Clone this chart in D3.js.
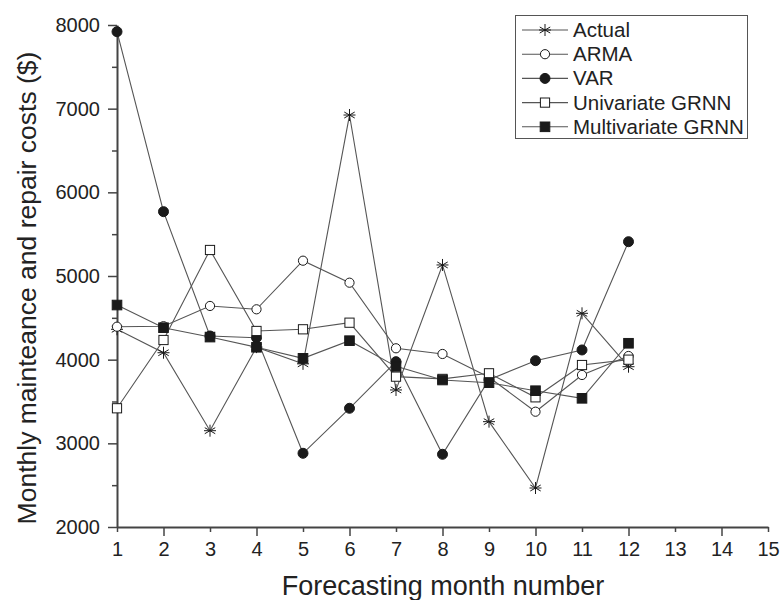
<!DOCTYPE html>
<html><head><meta charset="utf-8">
<script src="https://cdn.jsdelivr.net/npm/d3@7"></script>
<style>body{margin:0;background:#fff}svg{display:block}text{font-family:"Liberation Sans",Arial,sans-serif;fill:#222}</style>
</head><body>
<script>
const months = [1,2,3,4,5,6,7,8,9,10,11,12];
const actual = [4363,4083,3151,4150,3950,6924,3638,5132,3259,2466,4554,3916];
const arma = [4394,4400,4642,4602,5183,4920,4136,4068,3790,3378,3817,4044];
const varS = [7920,5769,4283,4262,2881,3419,3976,2869,3760,3988,4116,5410];
const uniGrnn = [3419,4235,5311,4343,4363,4442,3797,3770,3837,3550,3936,4000];
const multiGrnn = [4653,4382,4270,4148,4016,4227,3920,3757,3725,3629,3538,4196];
const seriesNames = ["Actual","ARMA","VAR","Univariate GRNN","Multivariate GRNN"];
const xTicks = d3.range(1,16);
const yTicks = d3.range(2000,8001,500);

const W=781,H=600;
const svg=d3.select("body").append("svg").attr("width",W).attr("height",H);
const x=d3.scaleLinear().domain([1,15]).range([117,768]);
const y=d3.scaleLinear().domain([2000,8000]).range([527,25]);
const axisColor="#444", lineColor="#555", mk="#1a1a1a";

// axes
const gx=svg.append("g").attr("transform",`translate(0,${y(2000)})`)
  .call(d3.axisBottom(x).tickValues(xTicks).tickSize(9).tickPadding(6).tickSizeOuter(0).tickFormat(d3.format("d")));
gx.selectAll(".tick line").attr("y2",d=>d%2===0?9:5);
const gy=svg.append("g").attr("transform",`translate(${x(1)},0)`)
  .call(d3.axisLeft(y).tickValues(yTicks).tickSize(9).tickPadding(8).tickSizeOuter(0).tickFormat(d=>d%1000===0?d:""));
gy.selectAll(".tick line").attr("x2",d=>d%1000===0?-9:-5);
[gx,gy].forEach(g=>{
  g.select(".domain").attr("stroke",axisColor).attr("stroke-width",2);
  g.selectAll(".tick line").attr("stroke",axisColor).attr("stroke-width",1.5);
  g.selectAll(".tick text").attr("font-size",20).attr("fill","#222").attr("font-family","Liberation Sans, Arial, sans-serif");
});

// titles
svg.append("text").attr("x",443).attr("y",595).attr("text-anchor","middle").attr("font-size",27).text("Forecasting month number");
svg.append("text").attr("transform",`translate(36,288) rotate(-90)`).attr("text-anchor","middle").attr("font-size",26.5).text("Monthly mainteance and repair costs ($)");

// markers
function drawMarker(g,type,cx,cy){
  if(type==="asterisk"){
    const r=6;
    g.append("path").attr("d",`M${cx},${cy-r}L${cx},${cy+r}M${cx-r*0.87},${cy-r*0.5}L${cx+r*0.87},${cy+r*0.5}M${cx-r*0.87},${cy+r*0.5}L${cx+r*0.87},${cy-r*0.5}M${cx-r},${cy}L${cx+r},${cy}`)
      .attr("stroke",mk).attr("stroke-width",1).attr("fill","none");
  } else if(type==="ocircle"){
    g.append("circle").attr("cx",cx).attr("cy",cy).attr("r",4.6).attr("fill","#fff").attr("stroke",mk).attr("stroke-width",1);
  } else if(type==="fcircle"){
    g.append("circle").attr("cx",cx).attr("cy",cy).attr("r",5).attr("fill",mk).attr("stroke",mk);
  } else if(type==="osquare"){
    g.append("rect").attr("x",cx-4.6).attr("y",cy-4.6).attr("width",9.2).attr("height",9.2).attr("fill","#fff").attr("stroke",mk).attr("stroke-width",1);
  } else if(type==="fsquare"){
    g.append("rect").attr("x",cx-4.8).attr("y",cy-4.8).attr("width",9.6).attr("height",9.6).attr("fill",mk).attr("stroke",mk);
  }
}
const series=[
  {name:seriesNames[0],vals:actual,m:"asterisk"},
  {name:seriesNames[1],vals:arma,m:"ocircle"},
  {name:seriesNames[2],vals:varS,m:"fcircle"},
  {name:seriesNames[3],vals:uniGrnn,m:"osquare"},
  {name:seriesNames[4],vals:multiGrnn,m:"fsquare"}
];
const line=d3.line().x((d,i)=>x(months[i])).y(d=>y(d));
const lg=svg.append("g");
series.forEach(s=>{
  lg.append("path").datum(s.vals).attr("d",line).attr("fill","none").attr("stroke",lineColor).attr("stroke-width",1.1);
});
series.forEach(s=>{
  const g=svg.append("g");
  s.vals.forEach((v,i)=>drawMarker(g,s.m,x(months[i]),y(v)));
});

// legend
const leg=svg.append("g");
leg.append("rect").attr("x",515.5).attr("y",15.5).attr("width",232).attr("height",123).attr("fill","#fff").attr("stroke","#555").attr("stroke-width",1);
series.forEach((s,i)=>{
  const cy=30+i*24.2;
  leg.append("line").attr("x1",522).attr("x2",568).attr("y1",cy).attr("y2",cy).attr("stroke",lineColor).attr("stroke-width",1.1);
  drawMarker(leg,s.m,545,cy);
  leg.append("text").attr("x",573).attr("y",cy+7).attr("font-size",20.5).text(s.name);
});
</script>
</body></html>
